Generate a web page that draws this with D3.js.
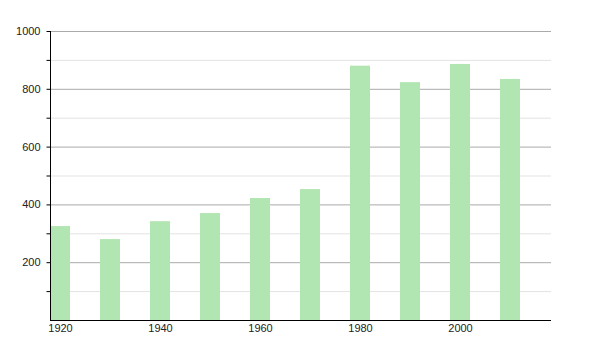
<!DOCTYPE html>
<html><head><meta charset="utf-8">
<script src="https://cdn.jsdelivr.net/npm/d3@7"></script>
<style>body{margin:0;background:#fff}text{font-family:"Liberation Sans",Arial,sans-serif}</style>
</head><body><svg id="c" width="600" height="350"></svg>
<script>
const years = [1920,1930,1940,1950,1960,1970,1980,1990,2000,2010];
const values = [325,280,342,370,422,453,880,823,886,834];
const yTicks = [200,400,600,800,1000];
const yMinor = [100,300,500,700,900];
const xTicks = [1920,1940,1960,1980,2000];

const svg = d3.select("#c");
const L=50,R=551,T=31,B=320;
const x = d3.scaleLinear().domain([1918,2018.2]).range([L,R]);
const y = d3.scaleLinear().domain([0,1000]).range([B,T]);

svg.append("g").selectAll("line").data(yMinor).join("line")
 .attr("x1",L).attr("x2",R).attr("y1",d=>y(d)+0.5).attr("y2",d=>y(d)+0.5)
 .attr("stroke","#e3e3e3");
svg.append("g").selectAll("line").data(yTicks).join("line")
 .attr("x1",L).attr("x2",R).attr("y1",d=>y(d)+0.5).attr("y2",d=>y(d)+0.5)
 .attr("stroke","#aaa");

svg.append("g").selectAll("rect").data(years).join("rect")
 .attr("x",(d)=>x(d)-10).attr("width",20)
 .attr("y",(d,i)=>y(values[i])).attr("height",(d,i)=>B-y(values[i]))
 .attr("fill","#b1e5b1");

const ya = svg.append("g").attr("transform",`translate(${L+0.5},0)`)
 .call(d3.axisLeft(y).tickValues(d3.range(100,1001,100)).tickSize(4).tickFormat(d=>yTicks.includes(d)?d:""));
ya.select(".domain").attr("d",`M0,${T}V${B}`).attr("stroke","#000");
ya.selectAll(".tick line").attr("stroke","#000");
ya.selectAll(".tick text").attr("font-size",11).attr("fill","#222").attr("x",-10);

const xa = svg.append("g").attr("transform",`translate(0,${B+0.5})`)
 .call(d3.axisBottom(x).tickValues(xTicks).tickSize(0).tickFormat(d3.format("d")));
xa.select(".domain").attr("d",`M${L},0H${R}`).attr("stroke","#000");
xa.selectAll(".tick text").attr("font-size",11).attr("fill","#222").attr("dy","0.95em").attr("y",1);
</script></body></html>
